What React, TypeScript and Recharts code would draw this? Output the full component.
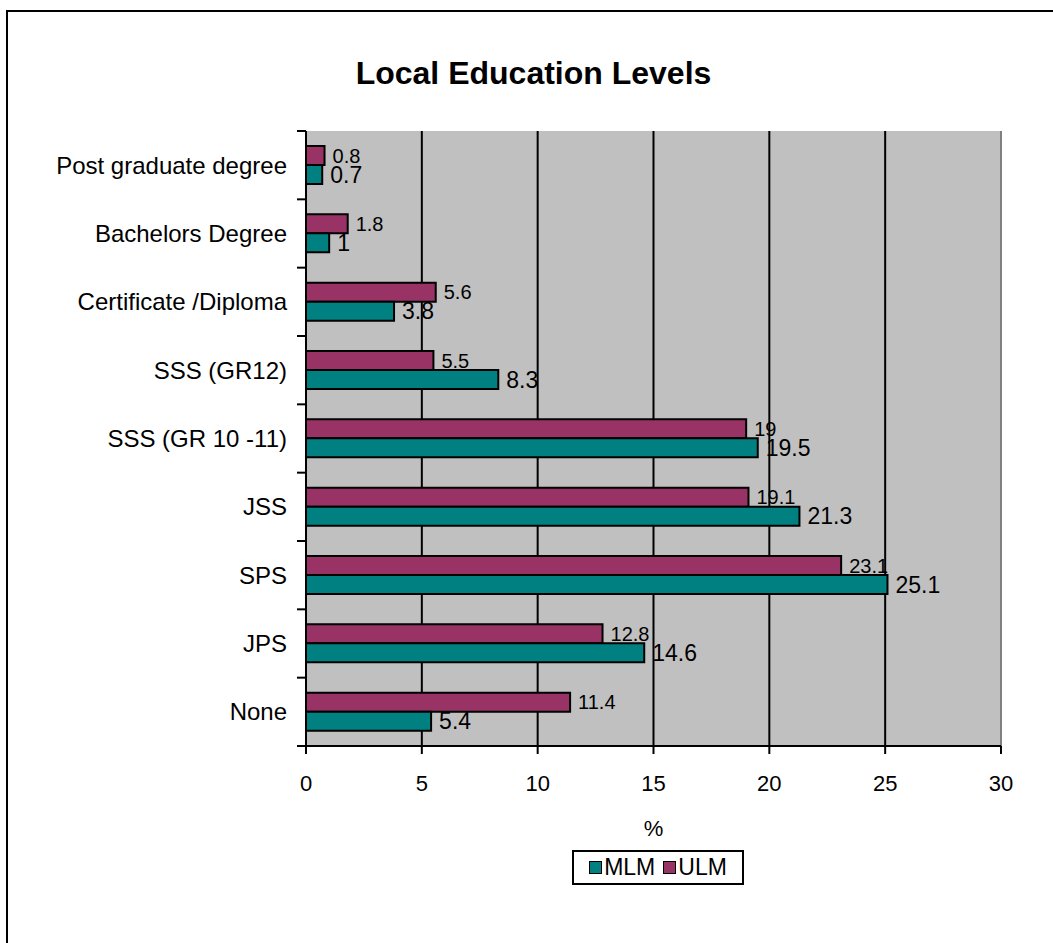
import React from 'react';
import { BarChart, Bar, XAxis, YAxis, CartesianGrid, ReferenceLine, LabelList, Label } from 'recharts';

const categories = [
  'Post graduate degree',
  'Bachelors Degree',
  'Certificate /Diploma',
  'SSS (GR12)',
  'SSS (GR 10 -11)',
  'JSS',
  'SPS',
  'JPS',
  'None',
];
const ulmValues = [0.8, 1.8, 5.6, 5.5, 19, 19.1, 23.1, 12.8, 11.4];
const mlmValues = [0.7, 1, 3.8, 8.3, 19.5, 21.3, 25.1, 14.6, 5.4];
const xTicks = [0, 5, 10, 15, 20, 25, 30];

const data = categories.map((name, i) => ({ name, ULM: ulmValues[i], MLM: mlmValues[i] }));

const W = 1053;
const H = 943;
const PLOT_TOP = 131;
const PLOT_BOTTOM = 746;
const PLOT_LEFT = 306;
const PLOT_RIGHT = 1001;
const BAND = (PLOT_BOTTOM - PLOT_TOP) / categories.length;
const FONT = '"Liberation Sans", Arial, sans-serif';
const X_AXIS_H = 100;

function CategoryTick(props: any) {
  const { y, payload, index } = props;
  const last = index === categories.length - 1;
  return (
    <g>
      <text x={PLOT_LEFT - 19} y={y} dy="0.35em" textAnchor="end" fontSize={24} fill="#000" fontFamily={FONT}>
        {payload.value}
      </text>
      <line x1={PLOT_LEFT - 9} x2={PLOT_LEFT} y1={y - BAND / 2} y2={y - BAND / 2} stroke="#000" strokeWidth={2} />
      {last && (
        <line x1={PLOT_LEFT - 9} x2={PLOT_LEFT} y1={y + BAND / 2} y2={y + BAND / 2} stroke="#000" strokeWidth={2} />
      )}
    </g>
  );
}

function LegendSwatch({ color }: { color: string }) {
  return (
    <span
      style={{
        display: 'inline-block',
        width: 11,
        height: 11,
        background: color,
        border: '1.5px solid #000',
        marginRight: 2,
      }}
    />
  );
}

export default function App() {
  return (
    <div
      style={{
        position: 'absolute',
        left: 0,
        top: 0,
        width: W,
        height: H,
        overflow: 'hidden',
        background: '#fff',
        fontFamily: FONT,
      }}
    >
      <div
        style={{
          position: 'absolute',
          left: 6,
          top: 10,
          width: W + 20,
          height: H + 20,
          borderLeft: '2px solid #000',
          borderTop: '2px solid #000',
        }}
      />
      <div
        style={{
          position: 'absolute',
          left: 0,
          width: 1067,
          top: 55,
          textAlign: 'center',
          fontSize: 32,
          fontWeight: 'bold',
          lineHeight: '36px',
        }}
      >
        Local Education Levels
      </div>
      <div style={{ position: 'absolute', left: 0, top: 0 }}>
        <BarChart
          width={W}
          height={H}
          data={data}
          layout="vertical"
          margin={{ top: PLOT_TOP, right: W - PLOT_RIGHT, bottom: H - PLOT_BOTTOM - X_AXIS_H, left: 0 }}
          barSize={19}
          barGap={0}
        >
          <CartesianGrid horizontal={false} vertical stroke="#000" strokeWidth={2} fill="#C0C0C0" fillOpacity={1} />
          <XAxis
            type="number"
            domain={[0, 30]}
            ticks={xTicks}
            interval={0}
            height={X_AXIS_H}
            axisLine={{ stroke: '#000', strokeWidth: 2 }}
            tickLine={{ stroke: '#000', strokeWidth: 2 }}
            tickSize={8}
            tickMargin={21}
            tick={{ fill: '#000', fontSize: 22, fontFamily: FONT }}
          >
            <Label value="%" position="insideBottom" offset={10} fill="#000" fontSize={22} fontFamily={FONT} />
          </XAxis>
          <XAxis
            xAxisId="top"
            orientation="top"
            type="number"
            domain={[0, 30]}
            height={0}
            tick={false}
            tickLine={false}
            axisLine={{ stroke: '#808080', strokeWidth: 2 }}
          />
          <YAxis
            type="category"
            dataKey="name"
            width={PLOT_LEFT}
            interval={0}
            axisLine={{ stroke: '#000', strokeWidth: 2 }}
            tickLine={false}
            tick={<CategoryTick />}
          />
          <ReferenceLine x={30} stroke="#808080" strokeWidth={2} />
          <Bar dataKey="ULM" fill="#993366" stroke="#000" strokeWidth={2} isAnimationActive={false}>
            <LabelList dataKey="ULM" position="right" offset={8} fill="#000" fontSize={20} fontFamily={FONT} />
          </Bar>
          <Bar dataKey="MLM" fill="#008080" stroke="#000" strokeWidth={2} isAnimationActive={false}>
            <LabelList dataKey="MLM" position="right" offset={8} fill="#000" fontSize={23} fontFamily={FONT} />
          </Bar>
        </BarChart>
      </div>
      <div
        style={{
          position: 'absolute',
          left: 572,
          top: 850,
          width: 168,
          height: 31,
          border: '2px solid #000',
          background: '#fff',
          display: 'flex',
          alignItems: 'center',
          justifyContent: 'center',
          fontSize: 23,
          gap: 8,
        }}
      >
        <span style={{ display: 'flex', alignItems: 'center' }}>
          <LegendSwatch color="#008080" />
          MLM
        </span>
        <span style={{ display: 'flex', alignItems: 'center' }}>
          <LegendSwatch color="#993366" />
          ULM
        </span>
      </div>
    </div>
  );
}
